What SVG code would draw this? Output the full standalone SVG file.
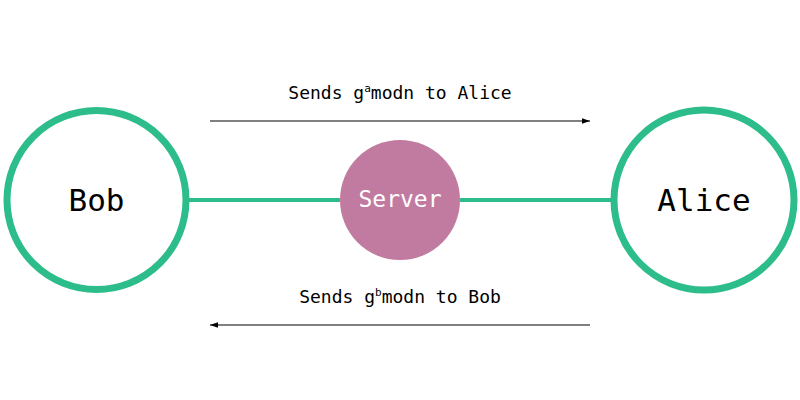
<svg xmlns="http://www.w3.org/2000/svg" width="800" height="400" viewBox="0 0 800 400">
<defs>
<style>
.peer{fill:#fff;stroke:#2dbd8a;stroke-width:7}
.link{stroke:#2dbd8a;stroke-width:4;fill:none}
.msg{stroke:#000;stroke-width:1;fill:none}
text{font-family:"DejaVu Sans Mono","Liberation Mono",monospace;text-anchor:middle}
.lbl{font-size:18px;fill:#000}
.sup{font-size:11px}
</style>
<marker id="ah" viewBox="0 0 10 10" refX="10" refY="5" markerWidth="8" markerHeight="8" markerUnits="userSpaceOnUse" orient="auto">
<path d="M0,1.5 L10,5 L0,8.5 z" fill="#000"/>
</marker>
</defs>
<rect width="800" height="400" fill="#fff"/>
<g id="connectors">
<line class="link" x1="188" y1="200" x2="340" y2="200"/>
<line class="link" x1="460" y1="200" x2="611" y2="200"/>
<line class="msg" x1="210" y1="121" x2="590" y2="121" marker-end="url(#ah)"/>
<line class="msg" x1="590" y1="325" x2="210" y2="325" marker-end="url(#ah)"/>
<text class="lbl" x="400" y="99">Sends g<tspan class="sup" dy="-7">a</tspan><tspan dy="7">modn to Alice</tspan></text>
<text class="lbl" x="400" y="303">Sends g<tspan class="sup" dy="-7">b</tspan><tspan dy="7">modn to Bob</tspan></text>
</g>
<g id="bob">
<circle class="peer" cx="96.5" cy="200" r="89.5"/>
<text x="96.5" y="211" font-size="31" fill="#000">Bob</text>
</g>
<g id="server">
<circle cx="400" cy="200" r="60" fill="#c27ba0"/>
<text x="400" y="207" font-size="23" fill="#fff">Server</text>
</g>
<g id="alice">
<circle class="peer" cx="704" cy="200" r="90"/>
<text x="704" y="211" font-size="31" fill="#000">Alice</text>
</g>
</svg>
